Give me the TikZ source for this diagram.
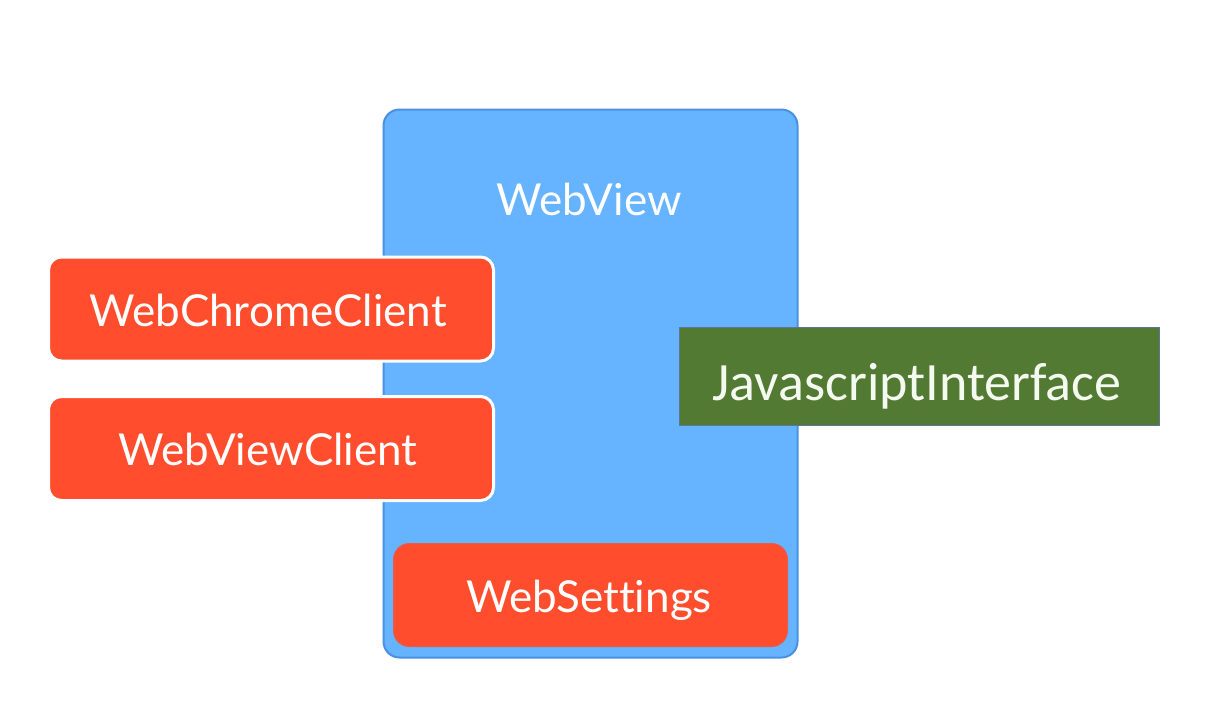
\documentclass[tikz,border=0pt]{standalone}
\usepackage{fontspec}
\setmainfont{Lato}[Ligatures=NoCommon]
\newfontfamily\calib{Carlito}
\definecolor{wvblue}{RGB}{102,179,255}
\definecolor{wvedge}{RGB}{74,144,226}
\definecolor{redbox}{RGB}{255,77,45}
\definecolor{greenbox}{RGB}{82,122,50}
\definecolor{greenedge}{RGB}{90,120,150}
\definecolor{offwhite}{RGB}{245,250,240}
\begin{document}
\begin{tikzpicture}[x=1pt,y=-1pt,
  bluebox/.style={draw=wvedge,line width=2pt,fill=wvblue,rounded corners=16pt,inner sep=0pt},
  redclient/.style={draw=white,line width=3pt,fill=redbox,rounded corners=13pt,inner sep=0pt},
  redset/.style={draw=redbox!85!wvblue,line width=1pt,fill=redbox,rounded corners=16pt,inner sep=0pt},
  greenrect/.style={draw=greenedge,line width=1pt,fill=greenbox,inner sep=0pt},
  lbl/.style={text=white,font=\fontsize{44}{44}\selectfont,anchor=base},
  glbl/.style={text=offwhite,font=\calib\fontsize{54}{54}\selectfont,anchor=base}]
\useasboundingbox (0,0) rectangle (1206,716);
\fill[white] (0,0) rectangle (1206,716);
% WebView container
\node[bluebox,minimum width=414pt,minimum height=548pt] (webview) at (590.5,383.5) {};
\node[lbl] (wvlabel) at (589,215) {WebView};
% clients
\node[redclient,minimum width=445pt,minimum height=104pt] (chrome) at (271,309) {};
\node[lbl] (chromelbl) at (268,326) {WebChromeClient};
\node[redclient,minimum width=445pt,minimum height=104pt] (client) at (271,448.5) {};
\node[lbl] (clientlbl) at (268,465) {WebViewClient};
% settings
\node[redset,minimum width=394pt,minimum height=103pt] (settings) at (590.5,595) {};
\node[lbl] (settingslbl) at (589,612) {WebSettings};
% JS interface
\node[greenrect,minimum width=480pt,minimum height=98pt] (js) at (919.5,376.5) {};
\node[glbl] (jslbl) at (917,400) {JavascriptInterface};
\end{tikzpicture}
\end{document}
